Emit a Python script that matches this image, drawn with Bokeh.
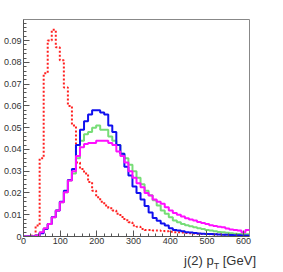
from bokeh.plotting import figure
from bokeh.models import FixedTicker, Range1d, Div
from bokeh.layouts import column
from bokeh.embed import file_html
from bokeh.resources import INLINE

# ---- data: 56 bins of width 11 GeV from 0 to 616 ----
bin_width = 11
n_bins = 56

red = [0, 0, 0.0005, 0.005, 0.036, 0.075, 0.090, 0.095, 0.087, 0.081,
       0.0685, 0.060, 0.051, 0.034, 0.031, 0.029, 0.025, 0.021, 0.018, 0.016,
       0.0143, 0.013, 0.012, 0.0104, 0.009, 0.0075, 0.0066, 0.005, 0.0045, 0.0035,
       0.003, 0.003, 0.0028, 0.0027, 0.0025, 0.0024, 0.0022, 0.002, 0.0019, 0.0018,
       0.0016, 0.0015, 0.0014, 0.0013, 0.0012, 0.0011, 0.001, 0.001, 0.0009, 0.0008,
       0.0008, 0.0007, 0.0006, 0.0006, 0.0005, 0.0005]

blue = [0, 0, 0, 0.0005, 0.0015, 0.0035, 0.0058, 0.009, 0.012, 0.016,
        0.021, 0.026, 0.031, 0.042, 0.049, 0.053, 0.056, 0.058, 0.058, 0.057,
        0.056, 0.051, 0.048, 0.042, 0.038, 0.032, 0.028, 0.023, 0.020, 0.017,
        0.014, 0.011, 0.0085, 0.0072, 0.006, 0.005, 0.0038, 0.003, 0.0028, 0.0024,
        0.002, 0.0018, 0.0016, 0.0014, 0.0013, 0.0012, 0.0011, 0.001, 0.0009, 0.0008,
        0.0008, 0.0007, 0.0006, 0.0006, 0.0005, 0.0005]

green = [0, 0, 0, 0.0005, 0.0018, 0.0037, 0.0058, 0.0089, 0.012, 0.0157,
         0.0203, 0.0257, 0.029, 0.036, 0.044, 0.047, 0.048, 0.050, 0.051, 0.049,
         0.049, 0.046, 0.044, 0.042, 0.038, 0.036, 0.033, 0.030, 0.027, 0.024,
         0.021, 0.019, 0.0167, 0.0143, 0.012, 0.0104, 0.0089, 0.0073, 0.0065, 0.0058,
         0.0052, 0.0047, 0.0042, 0.0038, 0.0034, 0.003, 0.0027, 0.0024, 0.0021, 0.0019,
         0.0017, 0.0015, 0.0013, 0.0012, 0.0011, 0.001]

magenta = [0, 0, 0, 0.0005, 0.002, 0.0038, 0.0058, 0.0089, 0.012, 0.0157,
           0.0203, 0.0257, 0.030, 0.037, 0.041, 0.0425, 0.043, 0.043, 0.044, 0.044,
           0.044, 0.043, 0.042, 0.039, 0.037, 0.034, 0.030, 0.027, 0.0245, 0.0226,
           0.020, 0.0188, 0.017, 0.016, 0.015, 0.0134, 0.0119, 0.0108, 0.010, 0.0092,
           0.0084, 0.0078, 0.0073, 0.0067, 0.0062, 0.0058, 0.0052, 0.0048, 0.0045, 0.0043,
           0.0037, 0.0032, 0.0030, 0.0028, 0.0020, 0.0030]

x_ticks = [0, 100, 200, 300, 400, 500, 600]
y_ticks = [0, 0.01, 0.02, 0.03, 0.04, 0.05, 0.06, 0.07, 0.08, 0.09]
y_tick_labels = ["0", "0.01", "0.02", "0.03", "0.04", "0.05", "0.06", "0.07", "0.08", "0.09"]
x_title_main = "j(2) p"
x_title_sub = "T"
x_title_unit = "[GeV]"

x_max = bin_width * n_bins
y_max = 0.0997

edges = [i * bin_width for i in range(n_bins + 1)]

p = figure(frame_width=226, frame_height=217, output_backend="svg",
           toolbar_location=None, x_range=Range1d(0, x_max), y_range=Range1d(0, y_max),
           min_border_left=20, min_border_top=19, min_border_right=29, min_border_bottom=14,
           margin=0)
p.background_fill_color = "white"
p.border_fill_color = "white"
p.xgrid.visible = False
p.ygrid.visible = False
p.outline_line_color = "#888888"
p.outline_line_width = 1

def draw(vals, color, dash="solid"):
    ys = list(vals) + [vals[-1]]
    p.step(edges, ys, mode="after", line_color=color, line_width=2, line_dash=dash)

draw(red, "#ff2020", "2 2")
draw(green, "#77dd77")
draw(blue, "#1010ee")
draw(magenta, "#ff10ff")

font = "Liberation Sans"
minor_x = [v for v in range(0, x_max + 1, 20) if v not in x_ticks]
p.xaxis.ticker = FixedTicker(ticks=x_ticks, minor_ticks=minor_x)
minor_y = [round(i * 0.002, 4) for i in range(0, 50)]
p.yaxis.ticker = FixedTicker(ticks=y_ticks, minor_ticks=minor_y)
p.yaxis.major_label_overrides = {t: l for t, l in zip(y_ticks, y_tick_labels)}

for ax in (p.xaxis[0], p.yaxis[0]):
    ax.axis_line_color = "#555555"
    ax.major_tick_line_color = "#555555"
    ax.minor_tick_line_color = "#555555"
    ax.major_tick_in = 6
    ax.major_tick_out = 0
    ax.minor_tick_in = 3
    ax.minor_tick_out = 0
    ax.major_label_text_font = font
    ax.major_label_text_font_size = "9px"
    ax.major_label_text_color = "#333333"
    ax.major_label_standoff = 2

p.xaxis.major_label_standoff = 1

title_html = (
    '<span style="position:relative; top:3px;">'
    f'{x_title_main}<sub style="font-size:9px;">{x_title_sub}</sub> {x_title_unit}</span>'
)
div = Div(text=title_html, width=256, height=14, margin=0,
          styles={"font-family": "Liberation Sans", "font-size": "13px",
                  "color": "#333333", "text-align": "right",
                  "overflow": "visible", "white-space": "nowrap", "line-height": "15px"})

layout = column(p, div, spacing=0, margin=0)
open("out.html", "w").write(file_html(layout, INLINE))
